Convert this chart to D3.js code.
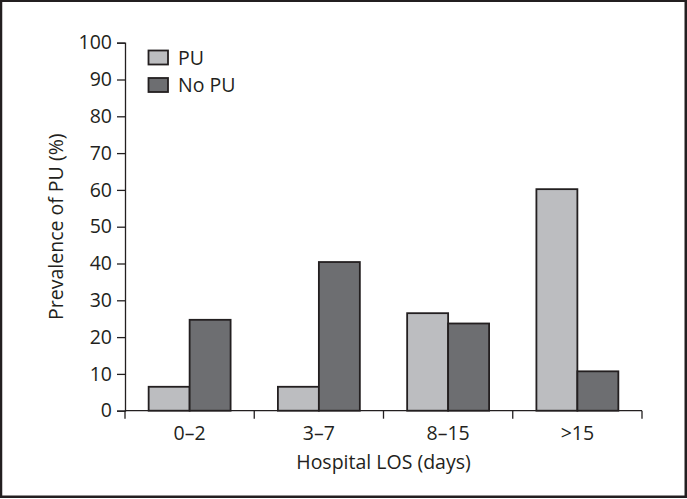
<!DOCTYPE html>
<html><head><meta charset="utf-8">
<script src="https://cdn.jsdelivr.net/npm/d3@7"></script>
<style>
html,body{margin:0;padding:0;background:#fff;}
svg text{font-family:"Open Sans",sans-serif;fill:#231f20;}
</style></head>
<body>
<svg id="chart" width="687" height="499"></svg>
<script>
const categories = ["0–2", "3–7", "8–15", ">15"];
const seriesNames = ["PU", "No PU"];
const puValues = [6.5, 6.5, 26.5, 60.2];
const noPuValues = [24.7, 40.4, 23.7, 10.7];
const yTicks = [0, 10, 20, 30, 40, 50, 60, 70, 80, 90, 100];
const colors = ["#bcbdc0", "#6d6e71"];

const svg = d3.select("#chart");
const W = 687, H = 499;
const m = {left: 125, right: 45, top: 42.7, bottom: 88.3};
const fs = 19.5;

svg.append("rect").attr("x", 1).attr("y", 0.75).attr("width", W - 2.25).attr("height", H - 3)
  .attr("fill", "none").attr("stroke", "#231f20").attr("stroke-width", 2.5);

const x0 = d3.scaleBand().domain(categories).range([m.left, W - m.right])
  .paddingInner(0.366).paddingOuter(0.183);
const x1 = d3.scaleBand().domain(seriesNames).range([0, x0.bandwidth()]);
const y = d3.scaleLinear().domain([0, 100]).range([H - m.bottom, m.top]);

const data = categories.map((c, i) => ({cat: c, vals: [puValues[i], noPuValues[i]]}));

const g = svg.append("g");
g.selectAll("g.grp").data(data).join("g").attr("class", "grp")
  .attr("transform", d => `translate(${x0(d.cat)},0)`)
  .selectAll("rect").data(d => d.vals.map((v, j) => ({s: seriesNames[j], v, j})))
  .join("rect")
  .attr("x", d => x1(d.s)).attr("width", x1.bandwidth())
  .attr("y", d => y(d.v)).attr("height", d => y(0) - y(d.v))
  .attr("fill", d => colors[d.j]).attr("stroke", "#231f20").attr("stroke-width", 1.8);

// Y axis
const yAxis = d3.axisLeft(y).tickValues(yTicks).tickSize(8).tickPadding(5);
const ya = svg.append("g").attr("transform", `translate(${m.left},0)`).call(yAxis);
ya.select(".domain").attr("stroke", "#231f20").attr("stroke-width", 1.3);
ya.selectAll(".tick line").attr("stroke", "#231f20").attr("stroke-width", 1.3);
ya.selectAll(".tick text").style("font-size", fs + "px").attr("fill", "#231f20");

// X axis
const xa = svg.append("g").attr("transform", `translate(0,${y(0)})`);
xa.append("line").attr("x1", m.left).attr("x2", W - m.right).attr("stroke", "#231f20").attr("stroke-width", 1.3);
const step = x0.step();
const edges = [m.left].concat(categories.map(c => x0(c) + x0.bandwidth() / 2 + step / 2));
xa.selectAll("line.tk").data(edges).join("line").attr("class", "tk")
  .attr("x1", d => d).attr("x2", d => d).attr("y1", 0).attr("y2", 8)
  .attr("stroke", "#231f20").attr("stroke-width", 1.3);
xa.selectAll("text").data(categories).join("text")
  .attr("x", d => x0(d) + x0.bandwidth() / 2).attr("y", 29)
  .attr("text-anchor", "middle").style("font-size", fs + "px").text(d => d);

svg.append("text").attr("x", (m.left + W - m.right) / 2).attr("y", 468.5)
  .attr("text-anchor", "middle").style("font-size", fs + "px").text("Hospital LOS (days)");
svg.append("text").attr("transform", `translate(63,${(y(0) + y(100)) / 2}) rotate(-90)`)
  .attr("text-anchor", "middle").style("font-size", fs + "px").text("Prevalence of PU (%)");

// Legend
const lg = svg.append("g");
seriesNames.forEach((s, i) => {
  lg.append("rect").attr("x", 148.5).attr("y", 50.5 + i * 27.5).attr("width", 19.5).attr("height", 14)
    .attr("fill", colors[i]).attr("stroke", "#231f20").attr("stroke-width", 1.8);
  lg.append("text").attr("x", 178).attr("y", 64.5 + i * 27.5).style("font-size", fs + "px").text(s);
});
</script>
</body></html>
